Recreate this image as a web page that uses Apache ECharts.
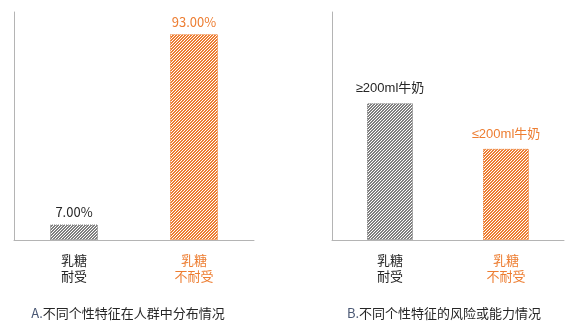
<!DOCTYPE html>
<html>
<head>
<meta charset="utf-8">
<script src="https://cdn.jsdelivr.net/npm/echarts@6/dist/echarts.min.js"></script>
<style>
html,body{margin:0;padding:0;background:#fff;}
#c{width:569px;height:326px;}
</style>
</head>
<body>
<div id="c"></div>
<script>
// ---- data ----
const categoriesA = ['乳糖\n耐受', '乳糖\n不耐受'];
const valuesA = [7, 93];
const labelsA = ['7.00%', '93.00%'];
const categoriesB = ['乳糖\n耐受', '乳糖\n不耐受'];
const valuesB = [60, 40];
const labelsB = ['≥200ml牛奶', '≤200ml牛奶'];
const captionA = '不同个性特征在人群中分布情况';
const captionB = '不同个性特征的风险或能力情况';

const GRAY = '#7f7f7f';
const ORANGE = '#ed7d31';
const TEXT = '#262626';
const FONT = '"Noto Sans CJK SC", "Noto Sans", sans-serif';
const FONT_B = '"Liberation Sans", "Noto Sans CJK SC", sans-serif';

function hatch(color) {
  const s = 3;
  const cv = document.createElement('canvas');
  cv.width = s; cv.height = s;
  const ctx = cv.getContext('2d');
  ctx.fillStyle = color;
  for (let x = 0; x < s; x++) {
    for (let y = 0; y < s; y++) {
      if ((x + y) % s !== 2) ctx.fillRect(x, y, 1, 1);
    }
  }
  return { image: cv, repeat: 'repeat' };
}

const colors = [GRAY, ORANGE];
const textColors = [TEXT, ORANGE];

function barData(values) {
  return values.map((v, i) => ({
    value: v,
    itemStyle: {
      color: hatch(colors[i]),
      borderColor: colors[i],
      borderWidth: 1,
      borderType: 'dotted'
    },
    label: { color: textColors[i] }
  }));
}

const axisLine = { show: true, lineStyle: { color: '#b4b4b4', width: 1 } };

function xAxis(gridIndex, cats) {
  return {
    type: 'category', gridIndex, data: cats,
    axisLine, axisTick: { show: false },
    axisLabel: {
      margin: 12, fontSize: 13, lineHeight: 16, fontFamily: FONT,
      color: (v, i) => textColors[i]
    }
  };
}
function yAxis(gridIndex, max) {
  return {
    type: 'value', gridIndex, min: 0, max,
    axisLine, axisTick: { show: false }, axisLabel: { show: false },
    splitLine: { show: false }
  };
}

const chart = echarts.init(document.getElementById('c'), null, { renderer: 'canvas' });
chart.setOption({
  animation: false,
  backgroundColor: '#fff',
  grid: [
    { left: 14, right: 315, top: 12, bottom: 86, containLabel: false, outerBoundsMode: 'none' },
    { left: 332, right: 5, top: 12, bottom: 86, containLabel: false, outerBoundsMode: 'none' }
  ],
  xAxis: [xAxis(0, categoriesA), xAxis(1, categoriesB)],
  yAxis: [yAxis(0, 103), yAxis(1, 100)],
  series: [
    {
      type: 'bar', xAxisIndex: 0, yAxisIndex: 0, barWidth: 48,
      data: barData(valuesA),
      label: {
        show: true, position: 'top', distance: 6, fontSize: 13, fontFamily: FONT,
        formatter: p => labelsA[p.dataIndex]
      }
    },
    {
      type: 'bar', xAxisIndex: 1, yAxisIndex: 1, barWidth: 46,
      data: barData(valuesB),
      label: {
        show: true, position: 'top', distance: 8, fontSize: 13, fontFamily: FONT_B,
        formatter: p => labelsB[p.dataIndex]
      }
    }
  ],
  graphic: [
    {
      type: 'text', x: 128, y: 313,
      style: {
        text: '{a|A.}{b|' + captionA + '}', align: 'center', verticalAlign: 'middle',
        rich: {
          a: { fontSize: 13, fontFamily: FONT, fill: '#4a5874' },
          b: { fontSize: 13, fontFamily: FONT, fill: TEXT }
        }
      }
    },
    {
      type: 'text', x: 444, y: 313,
      style: {
        text: '{a|B.}{b|' + captionB + '}', align: 'center', verticalAlign: 'middle',
        rich: {
          a: { fontSize: 13, fontFamily: FONT, fill: '#4a5874' },
          b: { fontSize: 13, fontFamily: FONT, fill: TEXT }
        }
      }
    }
  ]
});
</script>
</body>
</html>
